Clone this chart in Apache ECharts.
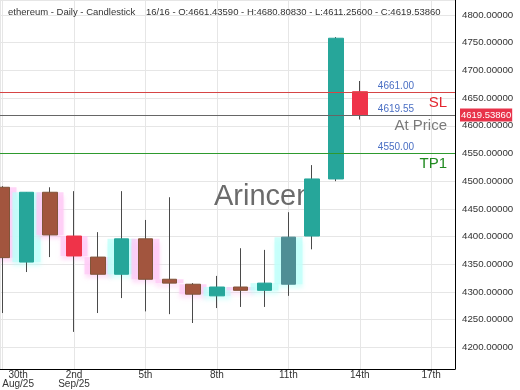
<!DOCTYPE html>
<html><head><meta charset="utf-8">
<script src="https://cdn.jsdelivr.net/npm/echarts@6/dist/echarts.min.js"></script>
<style>html,body{margin:0;padding:0;background:#fff}#c{width:520px;height:390px}</style>
</head><body><div id="c"></div>
<script>
// ---- data ----
const dates  = ['2025-08-30','2025-08-31','2025-09-01','2025-09-02','2025-09-03','2025-09-04','2025-09-05','2025-09-06','2025-09-07','2025-09-08','2025-09-09','2025-09-10','2025-09-11','2025-09-12','2025-09-13','2025-09-14'];
const openV  = [4489, 4354, 4480, 4401, 4363, 4332, 4396, 4323, 4314, 4293, 4309, 4303, 4314, 4401, 4504, 4661.43590];
const closeV = [4362, 4480, 4403, 4365, 4332, 4396, 4323, 4316, 4296, 4309, 4303, 4316, 4399, 4504, 4758, 4619.53860];
const lowV   = [4262, 4336, 4363, 4228, 4262, 4289, 4265, 4260, 4244, 4271, 4273, 4273, 4293, 4377, 4500, 4611.25600];
const highV  = [4491, 4480, 4489, 4482, 4408, 4482, 4430, 4471, 4316, 4329, 4379, 4376, 4444, 4529, 4760, 4680.80830];
const xTickDays   = [0, 3, 6, 9, 12, 15, 18];
const xTickLabels = ['30th\nAug/25', '2nd\nSep/25', '5th', '8th', '11th', '14th', '17th'];
const levelNames  = ['SL', 'At Price', 'TP1'];
const levelValues = [4661.00, 4619.55, 4550.00];
const instrument  = 'ethereum - Daily - Candlestick';

// ---- styles ----
const TEAL = '#26a69a', RED = '#ef3349', BROWN = '#a2553e', SLATE = '#4f8e95';
const bodyColors  = [BROWN, TEAL, BROWN, RED, BROWN, TEAL, BROWN, BROWN, BROWN, TEAL, BROWN, TEAL, SLATE, TEAL, TEAL, RED];
const glowOn      = [1, 1, 1, 1, 1, 1, 1, 1, 1, 1, 1, 1, 1, 0, 0, 0];
const levelColors = ['#d64545', '#666666', '#2e9a2e'];
const nameColors  = ['#e3262f', '#7a7a7a', '#1f8a1f'];
const FONT = '"Liberation Sans", Arial, sans-serif';
const CLEAR = 'rgba(0,0,0,0)';

const n = dates.length;
const last = n - 1;
const wickData = dates.map((d, i) => [i, openV[i], closeV[i], lowV[i], highV[i]]);
const bodyRange = i => [i, openV[i], closeV[i], Math.min(openV[i], closeV[i]), Math.max(openV[i], closeV[i])];
const bodyData = dates.map((d, i) => {
  const c = bodyColors[i];
  const bc = c === BROWN ? '#80553a' : c;
  return { value: bodyRange(i), itemStyle: { color: c, color0: c, borderColor: bc, borderColor0: bc } };
});
const glowData = dates.map((d, i) => {
  const up = closeV[i] >= openV[i];
  const g = !glowOn[i] ? CLEAR : (up ? 'rgba(190,255,250,0.75)' : 'rgba(255,200,245,0.75)');
  return {
    value: bodyRange(i),
    itemStyle: { color: g, color0: g, borderColor: CLEAR, borderColor0: CLEAR, borderWidth: 0,
                 shadowColor: g, shadowBlur: glowOn[i] ? 4 : 0, shadowOffsetY: 4 }
  };
});

const mlData = [];
levelValues.forEach((v, k) => {
  mlData.push({
    yAxis: v,
    lineStyle: { color: levelColors[k], width: 1, type: 'solid' },
    label: { show: true, formatter: v.toFixed(2), position: 'insideEndTop', distance: [41, 1],
             color: '#4a6fc4', fontSize: 10, fontFamily: FONT }
  });
  mlData.push({
    yAxis: v,
    lineStyle: { color: CLEAR, width: 1 },
    label: { show: true, formatter: levelNames[k], position: 'insideEndBottom', distance: [8, 3],
             color: nameColors[k], fontSize: 15, fontFamily: FONT }
  });
});
mlData.push({
  yAxis: closeV[last],
  lineStyle: { color: CLEAR, width: 1 },
  label: { show: true, formatter: closeV[last].toFixed(5), position: 'end', distance: 5,
           color: '#fff', backgroundColor: '#e8334a', padding: [2, 1, 1, 1], fontSize: 9.5, fontFamily: FONT }
});

const chart = echarts.init(document.getElementById('c'), null, { renderer: 'canvas' });
chart.setOption({
  animation: false,
  textStyle: { fontFamily: FONT },
  grid: { left: 0, right: 65, top: 0, bottom: 21, containLabel: false, outerBoundsMode: 'none' },
  xAxis: {
    type: 'value', min: -0.11, max: 19.0, minInterval: 3, maxInterval: 3,
    axisLine: { show: true, onZero: false, lineStyle: { color: '#000', width: 1 } },
    axisTick: { show: false },
    splitLine: { show: true, lineStyle: { color: '#e6e6e6' } },
    axisLabel: {
      showMinLabel: false, showMaxLabel: false, margin: 2, fontSize: 10, color: '#333', lineHeight: 9,
      fontFamily: FONT,
      formatter: v => {
        const i = xTickDays.indexOf(v);
        if (i < 0) return '';
        if (i === 0) return xTickLabels[0].split('\n').map(s => '{f|' + s + '}').join('\n');
        return xTickLabels[i];
      },
      rich: { f: { padding: [0, 0, 0, 31], fontSize: 10, color: '#333', lineHeight: 9, fontFamily: FONT } }
    }
  },
  yAxis: {
    type: 'value', position: 'right', min: 4161, max: 4827, minInterval: 50, maxInterval: 50,
    axisLine: { show: true, onZero: false, lineStyle: { color: '#000', width: 1 } },
    axisTick: { show: false },
    splitLine: { show: true, lineStyle: { color: '#e6e6e6' } },
    axisLabel: { showMinLabel: false, showMaxLabel: false, margin: 7, fontSize: 9.7, color: '#333',
                 fontFamily: FONT, formatter: v => v.toFixed(5) }
  },
  graphic: [
    { type: 'text', left: 8, top: 7, z: 10, silent: true,
      style: { text: instrument, font: '9.5px "Liberation Sans", Arial, sans-serif', fill: '#333' } },
    { type: 'text', left: 146, top: 7, z: 10, silent: true,
      style: { text: (last + 1) + '/' + n + ' - O:' + openV[last].toFixed(5) + ' - H:' + highV[last].toFixed(5) +
               ' - L:' + lowV[last].toFixed(5) + ' - C:' + closeV[last].toFixed(5),
               font: '9.5px "Liberation Sans", Arial, sans-serif', fill: '#333' } },
    { type: 'text', left: 214, top: 182, z: 1, silent: true,
      style: { text: 'Arincen', font: '29px "Liberation Sans", Arial, sans-serif', fill: '#6b6b6b' } }
  ],
  series: [
    { type: 'candlestick', name: 'glow', data: glowData, barWidth: 28, silent: true, z: 1 },
    { type: 'candlestick', name: 'wicks', data: wickData, barWidth: 1, silent: true, z: 2,
      itemStyle: { color: '#4a4a4a', color0: '#4a4a4a', borderColor: '#4a4a4a', borderColor0: '#4a4a4a', borderWidth: 1 } },
    { type: 'candlestick', name: 'bodies', data: bodyData, barWidth: 15, silent: true, z: 3,
      markLine: { symbol: 'none', silent: true, animation: false, data: mlData } }
  ]
});
</script></body></html>
